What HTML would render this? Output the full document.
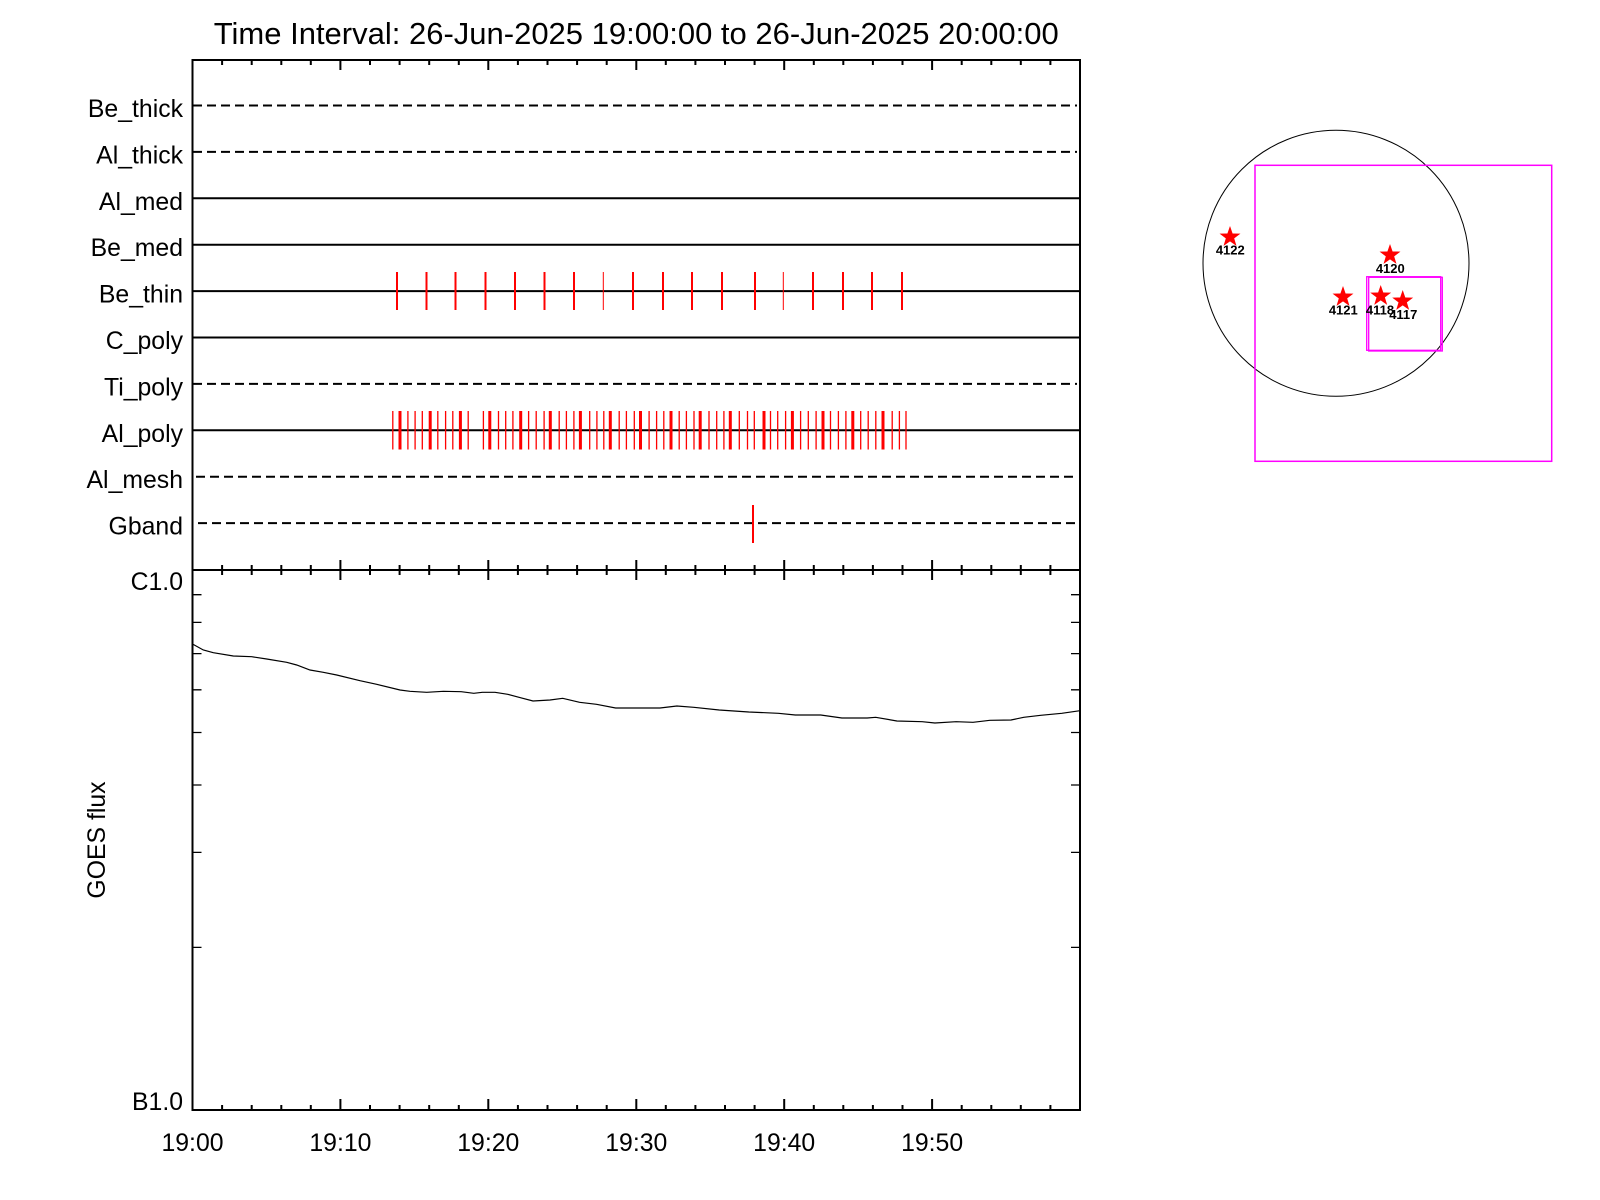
<!DOCTYPE html>
<html><head><meta charset="utf-8"><style>
html,body{margin:0;padding:0;background:#fff;}
svg{display:block;}
text{font-family:"Liberation Sans",Arial,sans-serif;fill:#000;}
</style></head><body>
<svg width="1600" height="1200" viewBox="0 0 1600 1200" xmlns="http://www.w3.org/2000/svg">
<rect width="1600" height="1200" fill="#fff"/>
<text x="636.25" y="44" font-size="31" text-anchor="middle">Time Interval: 26-Jun-2025 19:00:00 to 26-Jun-2025 20:00:00</text>

<!-- channel lines -->
<g stroke="#000" stroke-width="2" fill="none">
<path d="M193 105.5H1077" stroke-dasharray="9 5"/>
<path d="M193 151.9H1077" stroke-dasharray="9 5"/>
<path d="M192.5 198.3H1080"/>
<path d="M192.5 244.7H1080"/>
<path d="M192.5 291.1H1080"/>
<path d="M192.5 337.5H1080"/>
<path d="M193 383.9H1077" stroke-dasharray="9 5"/>
<path d="M192.5 430.3H1080"/>
<path d="M196 476.7H1077" stroke-dasharray="9 5"/>
<path d="M198 523.1H1077" stroke-dasharray="9 5"/>
</g>

<g font-size="24.8" text-anchor="end">
<text x="183" y="117">Be_thick</text>
<text x="183" y="163.4">Al_thick</text>
<text x="183" y="209.8">Al_med</text>
<text x="183" y="256.2">Be_med</text>
<text x="183" y="302.6">Be_thin</text>
<text x="183" y="349">C_poly</text>
<text x="183" y="395.4">Ti_poly</text>
<text x="183" y="441.8">Al_poly</text>
<text x="183" y="488.2">Al_mesh</text>
<text x="183" y="534.6">Gband</text>
</g>

<!-- Be_thin red ticks -->
<g stroke="#ff0000" stroke-width="2">
<path d="M397 272V310M426.5 272V310M455.5 272V310M485.5 272V310M515 272V310M544.5 272V310M574 272V310M633 272V310M663 272V310M692 272V310M722 272V310M755 272V310M813 272V310M843 272V310M872 272V310M902 272V310"/>
<path d="M603.3 272V310M783.3 272V310" stroke-width="1"/>
</g>
<!-- Al_poly red ticks -->
<g stroke="#ff0000">
<path stroke-width="1.3" d="M392.8 411V449.5M407.9 411V449.5M415.1 411V449.5M422.3 411V449.5M437.8 411V449.5M445.6 411V449.5M452.8 411V449.5M468.2 411V449.5M483.4 411V449.5M498.5 411V449.5M505.7 411V449.5M512.9 411V449.5M528.6 411V449.5M536.2 411V449.5M544.1 411V449.5M559.2 411V449.5M566.4 411V449.5M573.9 411V449.5M589.7 411V449.5M596.9 411V449.5M603.8 411V449.5M619.2 411V449.5M626.4 411V449.5M634.3 411V449.5M649.1 411V449.5M656.6 411V449.5M663.8 411V449.5M679.2 411V449.5M686.4 411V449.5M694 411V449.5M709 411V449.5M716.7 411V449.5M723.9 411V449.5M739.3 411V449.5M747.5 411V449.5M754.3 411V449.5M770.5 411V449.5M777.7 411V449.5M785.6 411V449.5M800.6 411V449.5M808.3 411V449.5M816.1 411V449.5M830.5 411V449.5M838.4 411V449.5M845.9 411V449.5M860.7 411V449.5M868.2 411V449.5M875.8 411V449.5M892.2 411V449.5M899.4 411V449.5M906 411V449.5"/>
<path stroke-width="3" d="M400 411V449.5M430.2 411V449.5M460.4 411V449.5M489.8 411V449.5M520.7 411V449.5M550.3 411V449.5M580.4 411V449.5M610.3 411V449.5M640.5 411V449.5M671 411V449.5M700.2 411V449.5M730.3 411V449.5M764 411V449.5M792.4 411V449.5M823 411V449.5M852.8 411V449.5M883 411V449.5"/>
<path stroke-width="2" d="M753 505V543"/>
</g>

<!-- axes frames -->
<g stroke="#000" stroke-width="2" fill="none">
<rect x="192.5" y="60" width="887.5" height="510"/>
<rect x="192.5" y="570" width="887.5" height="540"/>
<path d="M222.1 60v5M251.7 60v5M281.3 60v5M310.8 60v5M370 60v5M399.6 60v5M429.2 60v5M458.8 60v5M517.9 60v5M547.5 60v5M577.1 60v5M606.7 60v5M665.8 60v5M695.4 60v5M725 60v5M754.6 60v5M813.8 60v5M843.3 60v5M872.9 60v5M902.5 60v5M961.7 60v5M991.3 60v5M1020.8 60v5M1050.4 60v5"/>
<path d="M340.4 60v10M488.3 60v10M636.3 60v10M784.2 60v10M932.1 60v10"/>
<path d="M222.1 565v10M251.7 565v10M281.3 565v10M310.8 565v10M370 565v10M399.6 565v10M429.2 565v10M458.8 565v10M517.9 565v10M547.5 565v10M577.1 565v10M606.7 565v10M665.8 565v10M695.4 565v10M725 565v10M754.6 565v10M813.8 565v10M843.3 565v10M872.9 565v10M902.5 565v10M961.7 565v10M991.3 565v10M1020.8 565v10M1050.4 565v10"/>
<path d="M192.5 560v20M340.4 560v20M488.3 560v20M636.3 560v20M784.2 560v20M932.1 560v20M1080 560v20"/>
<path d="M222.1 1110v-5M251.7 1110v-5M281.3 1110v-5M310.8 1110v-5M370 1110v-5M399.6 1110v-5M429.2 1110v-5M458.8 1110v-5M517.9 1110v-5M547.5 1110v-5M577.1 1110v-5M606.7 1110v-5M665.8 1110v-5M695.4 1110v-5M725 1110v-5M754.6 1110v-5M813.8 1110v-5M843.3 1110v-5M872.9 1110v-5M902.5 1110v-5M961.7 1110v-5M991.3 1110v-5M1020.8 1110v-5M1050.4 1110v-5"/>
<path d="M340.4 1110v-11M488.3 1110v-11M636.3 1110v-11M784.2 1110v-11M932.1 1110v-11"/>
</g>
<!-- log ticks -->
<g stroke="#000" stroke-width="1.3" fill="none">
<path d="M192.5 594.7h9M192.5 622.4h9M192.5 653.6h9M192.5 689.8h9M192.5 732.5h9M192.5 785h9M192.5 852.4h9M192.5 947.4h9"/>
<path d="M1080 594.7h-9M1080 622.4h-9M1080 653.6h-9M1080 689.8h-9M1080 732.5h-9M1080 785h-9M1080 852.4h-9M1080 947.4h-9"/>
</g>

<!-- GOES curve -->
<polyline fill="none" stroke="#000" stroke-width="1.2" points="192.5,644 203.3,650 213.3,652.7 233.3,656 251.7,656.7 266.7,659 286.7,662.3 296.7,665 310,670 323.3,672.3 336.7,675 360,680.7 376.7,684.3 400,690 410,691.3 426.7,692.3 443.3,691.3 461.2,691.7 473.8,693.3 482.3,692.3 495,692.3 507.7,694.3 520.4,697.7 533,701 550,700 562.7,698.3 579.6,702.3 596.5,704.3 615.6,708 638.8,708 660,708 676.9,706 693.8,707.3 719.2,710 748.8,712 778.4,713.3 795.3,715 820.7,715 841.9,718 867.2,718 875.7,717.3 896.9,721 922.2,721.7 934.9,723 956.1,721.7 973,722.3 989.9,720.3 1011,720 1023.7,717.3 1040.7,715.3 1061.8,713.3 1080,710.7"/>

<g font-size="24.8">
<text x="183" y="590" text-anchor="end">C1.0</text>
<text x="183" y="1110" text-anchor="end">B1.0</text>
<g text-anchor="middle">
<text x="192.5" y="1151">19:00</text>
<text x="340.4" y="1151">19:10</text>
<text x="488.3" y="1151">19:20</text>
<text x="636.3" y="1151">19:30</text>
<text x="784.2" y="1151">19:40</text>
<text x="932.1" y="1151">19:50</text>
</g>
<text transform="translate(105,840) rotate(-90)" text-anchor="middle">GOES flux</text>
</g>

<!-- solar map -->
<circle cx="1336" cy="263.3" r="133" fill="none" stroke="#000" stroke-width="1"/>
<rect x="1255" y="165.3" width="296.7" height="296" fill="none" stroke="#ff00ff" stroke-width="1.5"/>
<rect x="1366.7" y="276.7" width="74" height="73.6" fill="none" stroke="#ff00ff" stroke-width="1.3"/>
<rect x="1368.7" y="277.3" width="73.6" height="73.7" fill="none" stroke="#ff00ff" stroke-width="1.3"/>
<defs>
<polygon id="st" points="0,-1 0.2351,-0.3236 0.9511,-0.309 0.3804,0.1236 0.5878,0.809 0,0.4 -0.5878,0.809 -0.3804,0.1236 -0.9511,-0.309 -0.2351,-0.3236"/>
</defs>
<g fill="#ff0000">
<use href="#st" transform="translate(1230,237) scale(11)"/>
<use href="#st" transform="translate(1390,255) scale(11)"/>
<use href="#st" transform="translate(1343,297) scale(11)"/>
<use href="#st" transform="translate(1380.7,296) scale(11)"/>
<use href="#st" transform="translate(1402.7,301) scale(11)"/>
</g>
<g font-size="13" font-weight="bold" text-anchor="middle">
<text x="1230.3" y="254.6">4122</text>
<text x="1390.3" y="272.9">4120</text>
<text x="1343.3" y="314.6">4121</text>
<text x="1380" y="314.6">4118</text>
<text x="1403.3" y="318.9">4117</text>
</g>
</svg>
</body></html>
